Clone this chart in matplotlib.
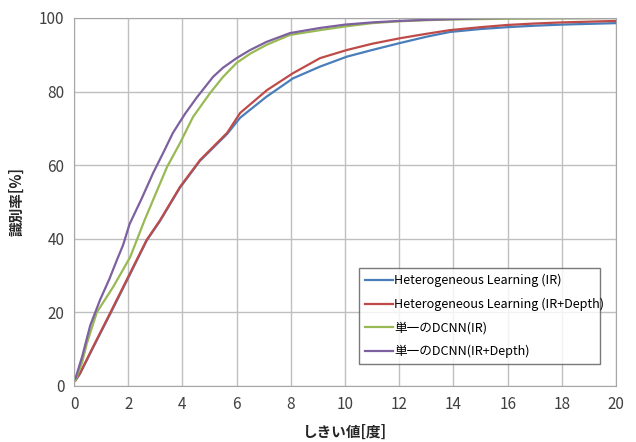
import matplotlib
matplotlib.use("Agg")
import matplotlib.pyplot as plt

plt.rcParams['font.family'] = ['Noto Sans CJK JP', 'DejaVu Sans']

# data
hl_ir_x = [0.05, 0.22, 0.7, 1.33, 2.07, 2.68, 3.17, 3.91, 4.65, 5.65, 6.13, 7.1, 8.08, 9.08, 10.07, 11, 12.03, 13, 13.87, 15, 15.98, 17, 18, 19, 20]
hl_ir_y = [1.5, 3.3, 10.4, 19.5, 30.4, 39.5, 44.8, 53.9, 61.2, 68.5, 72.9, 78.6, 83.6, 86.8, 89.5, 91.3, 93.2, 94.9, 96.2, 97.0, 97.5, 97.9, 98.2, 98.4, 98.6]

hl_d_x = [0.05, 0.22, 0.7, 1.33, 2.07, 2.68, 3.17, 3.91, 4.65, 5.65, 6.13, 7.12, 8.08, 9.08, 10.07, 11, 12.03, 13, 13.87, 15, 15.98, 17, 18, 19, 20]
hl_d_y = [1.5, 3.5, 10.6, 19.8, 30.7, 39.7, 45, 54.1, 61.4, 68.8, 74.2, 80.4, 85, 89.1, 91.3, 93, 94.5, 95.7, 96.7, 97.5, 98.1, 98.5, 98.8, 99.0, 99.2]

sg_ir_x = [0.05, 0.3, 0.47, 0.84, 1.45, 2.07, 2.6, 3.0, 3.43, 3.91, 4.39, 5.02, 5.5, 6.0, 6.5, 7.1, 7.97, 9.08, 10, 11, 12, 13, 14, 16, 18, 20]
sg_ir_y = [1.5, 6.5, 11.5, 20.0, 27, 35, 45, 52, 59.5, 66, 73.1, 79.6, 84, 87.8, 90.3, 92.7, 95.4, 96.7, 97.7, 98.6, 99.1, 99.4, 99.6, 99.8, 99.9, 100]

sg_d_x = [0.05, 0.3, 0.6, 0.96, 1.3, 1.58, 1.81, 2.05, 2.5, 2.92, 3.3, 3.65, 4.1, 4.54, 5.13, 5.5, 6.0, 6.5, 7.1, 7.97, 9.08, 10, 11, 12, 13, 14, 15, 16, 18, 20]
sg_d_y = [2, 8, 16.5, 23.4, 29, 34.2, 38.3, 44, 51, 57.9, 63.5, 68.8, 74, 78.5, 84, 86.5, 89.1, 91.3, 93.5, 95.9, 97.3, 98.2, 98.8, 99.2, 99.5, 99.7, 99.9, 100, 100, 100]

labels = ["Heterogeneous Learning (IR)", "Heterogeneous Learning (IR+Depth)",
          "単一のDCNN(IR)", "単一のDCNN(IR+Depth)"]

fig = plt.figure(figsize=(6.36, 4.42), dpi=100)
ax = fig.add_axes([0.1164, 0.1267, 0.8522, 0.8326])

ax.plot(hl_ir_x, hl_ir_y, color='#4A7EBB', linewidth=1.6, label=labels[0])
ax.plot(hl_d_x, hl_d_y, color='#BE4B48', linewidth=1.6, label=labels[1])
ax.plot(sg_ir_x, sg_ir_y, color='#98B954', linewidth=1.6, label=labels[2])
ax.plot(sg_d_x, sg_d_y, color='#7D60A0', linewidth=1.6, label=labels[3])

ax.set_xlim(0, 20)
ax.set_ylim(0, 100)
ax.set_xticks(range(0, 21, 2))
ax.set_yticks(range(0, 101, 20))
ax.grid(True, color='#BFBFBF', linewidth=1.0)
ax.set_axisbelow(True)
for s in ax.spines.values():
	s.set_color('#A6A6A6')
ax.tick_params(length=0, labelsize=11, colors='#404040', pad=7)

ax.set_xlabel('しきい値[度]', fontsize=10.5, fontweight='bold', color='#262626', labelpad=8)
ax.set_ylabel('識別率[%]', fontsize=10.5, fontweight='bold', color='#262626', labelpad=10)

leg = ax.legend(loc='lower left', bbox_to_anchor=(0.515, 0.0435, 0.468, 0.3045), mode='expand',
                fontsize=9.1, frameon=True, fancybox=False, handlelength=2.2,
                handletextpad=0.1, labelspacing=0.82, borderpad=0.45)
leg.get_frame().set_edgecolor('#595959')
leg.get_frame().set_linewidth(1.0)

fig.savefig('out.png', dpi=100)
